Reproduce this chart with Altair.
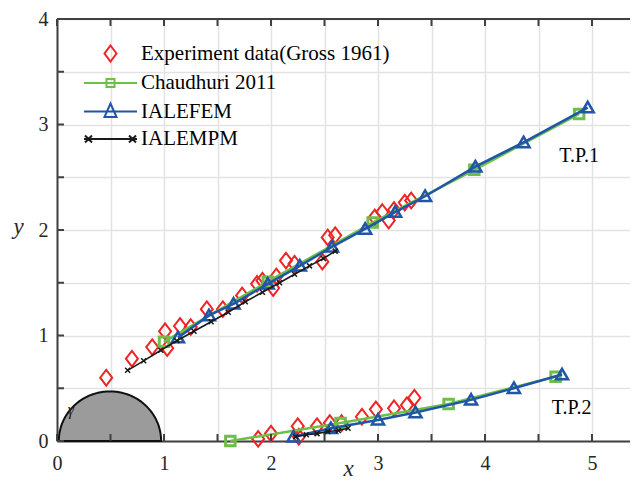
import altair as alt
import pandas as pd
import numpy as np

# ---------------- data ----------------
# T.P.1 experiment (Gross 1961)
exp1_x = [0.46, 0.70, 0.89, 1.01, 1.03, 1.15, 1.25, 1.40, 1.55, 1.73, 1.87, 1.92, 2.02, 2.05,
          2.14, 2.22, 2.48, 2.53, 2.60, 2.97, 3.04, 3.10, 3.15, 3.25, 3.31]
exp1_y = [0.60, 0.78, 0.89, 1.04, 0.88, 1.09, 1.08, 1.25, 1.25, 1.38, 1.49, 1.52, 1.45, 1.56,
          1.71, 1.68, 1.70, 1.93, 1.95, 2.12, 2.17, 2.09, 2.19, 2.26, 2.28]
# T.P.2 experiment
exp2_x = [1.88, 2.00, 2.25, 2.26, 2.43, 2.55, 2.66, 2.85, 2.98, 3.15, 3.27, 3.34]
exp2_y = [0.02, 0.07, 0.14, 0.04, 0.14, 0.17, 0.17, 0.23, 0.30, 0.31, 0.34, 0.41]

# Chaudhuri 2011
ch1_x = [1.00, 1.97, 2.95, 3.90, 4.88]
ch1_y = [0.94, 1.51, 2.07, 2.57, 3.10]
ch2_x = [1.62, 2.65, 3.66, 4.66]
ch2_y = [0.00, 0.17, 0.35, 0.61]

# IALEFEM
fem1_x = [1.13, 1.42, 1.65, 1.97, 2.27, 2.57, 2.88, 3.16, 3.44, 3.91, 4.36, 4.96]
fem1_y = [0.98, 1.19, 1.30, 1.49, 1.66, 1.84, 2.01, 2.17, 2.32, 2.60, 2.83, 3.16]
fem2_x = [2.21, 2.56, 3.00, 3.35, 3.87, 4.27, 4.72]
fem2_y = [0.04, 0.12, 0.20, 0.27, 0.39, 0.50, 0.63]

# IALEMPM
mpm1_x = [0.66, 0.81, 0.97, 1.12, 1.28, 1.44, 1.60, 1.76, 1.92, 2.08, 2.22, 2.36, 2.49, 2.60]
mpm1_y = [0.67, 0.76, 0.86, 0.95, 1.04, 1.13, 1.22, 1.32, 1.41, 1.50, 1.58, 1.66, 1.73, 1.80]
mpm2_x = [2.23, 2.33, 2.43, 2.53, 2.63, 2.72]
mpm2_y = [0.04, 0.06, 0.07, 0.09, 0.10, 0.12]

series = ["Experiment data(Gross 1961)", "Chaudhuri 2011", "IALEFEM", "IALEMPM"]
colors = ["#f02424", "#6cbf47", "#2156a6", "#1a1a1a"]

tick_x = [0, 0.5, 1, 1.5, 2, 2.5, 3, 3.5, 4, 4.5, 5]
tick_y = [0, 0.5, 1, 1.5, 2, 2.5, 3, 3.5, 4]

labels_txt = ["T.P.1", "T.P.2"]
labels_x = [4.88, 4.81]
labels_y = [2.70, 0.31]

# cylinder (half disc) geometry
cyl_cx, cyl_rx, cyl_ry = 0.495, 0.478, 0.47

# ---------------- chart ----------------
W, H = 573, 422
XMAX = W / 107.0
FONT = "Liberation Serif"
AX = "#262626"

xs = alt.Scale(domain=[0, XMAX], nice=False, zero=False)
ys = alt.Scale(domain=[0, 4], nice=False, zero=False)

xaxis = alt.Axis(values=tick_x, grid=True, ticks=False,
                 labelExpr="datum.value % 1 == 0 ? format(datum.value, 'd') : ''",
                 labelFont=FONT, labelFontSize=20, labelColor=AX, labelPadding=12,
                 labelFlush=False,
                 domainColor="#404040", domainWidth=2,
                 gridColor="#e2e2e2", gridWidth=1.5,
                 title="x", titleFont=FONT, titleFontStyle="italic", titleFontWeight="normal",
                 titleFontSize=23, titleColor=AX, titleX=291, titleY=34,
                 titleBaseline="alphabetic", titleAlign="center")
yaxis = alt.Axis(values=tick_y, grid=True, ticks=False,
                 labelExpr="datum.value % 1 == 0 ? format(datum.value, 'd') : ''",
                 labelFont=FONT, labelFontSize=20, labelColor=AX, labelPadding=9,
                 labelFlush=False,
                 domainColor="#404040", domainWidth=2,
                 gridColor="#e2e2e2", gridWidth=1.5,
                 title="y", titleFont=FONT, titleFontStyle="italic", titleFontWeight="normal",
                 titleFontSize=23, titleColor=AX, titleAngle=0, titleX=-39, titleY=207,
                 titleBaseline="middle", titleAlign="center")

X = alt.X("x:Q", scale=xs, axis=xaxis)
Y = alt.Y("y:Q", scale=ys, axis=yaxis)


def curve(xa, ya, xb, yb):
    return pd.DataFrame({"x": xa + xb, "y": ya + yb,
                         "tp": ["1"] * len(xa) + ["2"] * len(xb),
                         "i": list(range(len(xa) + len(xb)))})


theta = np.linspace(0, np.pi, 121)
cyl_df = pd.DataFrame({"x": cyl_cx - cyl_rx * np.cos(theta), "y": cyl_ry * np.sin(theta)})

exp_df = pd.DataFrame({"x": exp1_x + exp2_x, "y": exp1_y + exp2_y})
ch_df = curve(ch1_x, ch1_y, ch2_x, ch2_y)
fem_df = curve(fem1_x, fem1_y, fem2_x, fem2_y)
mpm_df = curve(mpm1_x, mpm1_y, mpm2_x, mpm2_y)

cyl = alt.Chart(cyl_df).mark_area(color="#9b9b9b", stroke="#111111", strokeWidth=2).encode(x=X, y=Y)

DIAMOND = "M0,-1.3L1,0L0,1.3L-1,0Z"
TRI = "M0,-1.1L1.15,0.9L-1.15,0.9Z"
XMARK = "M-1,-1L1,1M-1,1L1,-1"

exp_pts = alt.Chart(exp_df).mark_point(shape=DIAMOND, size=144, filled=False, strokeWidth=2,
                                       color=colors[0], opacity=1).encode(x=X, y=Y)

ch_line = alt.Chart(ch_df).mark_line(color=colors[1], strokeWidth=2.5).encode(
    x=X, y=Y, detail="tp:N", order="i:Q")
ch_pts = alt.Chart(ch_df).mark_point(shape="square", size=90, filled=False, strokeWidth=3,
                                     color=colors[1], opacity=1).encode(x=X, y=Y)

fem_line = alt.Chart(fem_df).mark_line(color=colors[2], strokeWidth=2.5).encode(
    x=X, y=Y, detail="tp:N", order="i:Q")
fem_pts = alt.Chart(fem_df).mark_point(shape=TRI, size=110, filled=False, strokeWidth=2.5,
                                       color=colors[2], opacity=1).encode(x=X, y=Y)

mpm_line = alt.Chart(mpm_df).mark_line(color=colors[3], strokeWidth=1.6).encode(
    x=X, y=Y, detail="tp:N", order="i:Q")
mpm_pts = alt.Chart(mpm_df).mark_point(shape=XMARK, size=25, filled=False, strokeWidth=1.5,
                                       color=colors[3], opacity=1).encode(x=X, y=Y)

# legend-only layer (no drawable points)
leg_shapes = [
    "M0,-1.6L1.2,0L0,1.6L-1.2,0Z",
    "M-5.3,0H5.3M-0.8,-0.8H0.8V0.8H-0.8Z",
    "M-5.3,0H5.3M0,-1.6L1.2,1.1L-1.2,1.1Z",
    "M-5.3,0H5.3M-5.1,-0.7L-3.7,0.7M-5.1,0.7L-3.7,-0.7M3.7,-0.7L5.1,0.7M3.7,0.7L5.1,-0.7",
]
leg_df = pd.DataFrame({"s": series, "x": [None] * 4, "y": [None] * 4})
legend = alt.Chart(leg_df).mark_point(filled=False, strokeWidth=2, opacity=1).encode(
    x=X, y=Y,
    color=alt.Color("s:N", scale=alt.Scale(domain=series, range=colors), legend=alt.Legend(
        title=None, orient="none", legendX=43, legendY=24, symbolSize=100,
        symbolStrokeWidth=2, labelFont=FONT, labelFontSize=21, labelColor="#000000",
        labelOffset=20, rowPadding=5.5, padding=0, symbolOffset=0, labelLimit=400)),
    shape=alt.Shape("s:N", scale=alt.Scale(domain=series, range=leg_shapes)),
)

# text annotations
lab_df = pd.DataFrame({"x": labels_x, "y": labels_y, "t": labels_txt})
labels = alt.Chart(lab_df).mark_text(font=FONT, fontSize=20, color="#000000").encode(
    x=X, y=Y, text="t:N")
gam_df = pd.DataFrame({"x": [0.13], "y": [0.29], "t": ["γ"]})
gam = alt.Chart(gam_df).mark_text(font=FONT, fontSize=16, fontStyle="italic", color="#222222").encode(
    x=X, y=Y, text="t:N")

# inward ticks (MATLAB style) and top box line
tx_df = pd.DataFrame({"x": tick_x})
ty_df = pd.DataFrame({"y": tick_y})
tick_b = alt.Chart(tx_df).mark_rule(color="#404040", strokeWidth=2).encode(
    x=X, y=alt.value(H), y2=alt.value(H - 7))
tick_t = alt.Chart(tx_df).mark_rule(color="#404040", strokeWidth=2).encode(
    x=X, y=alt.value(0), y2=alt.value(7))
tick_l = alt.Chart(ty_df).mark_rule(color="#404040", strokeWidth=2).encode(
    y=Y, x=alt.value(0), x2=alt.value(7))
top_line = alt.Chart(tx_df.head(1)).mark_rule(color="#404040", strokeWidth=2).encode(
    x=alt.value(0), x2=alt.value(W), y=alt.value(0))

chart = alt.layer(
    cyl, exp_pts, ch_line, ch_pts, fem_line, fem_pts, mpm_line, mpm_pts,
    legend, labels, gam, tick_b, tick_t, tick_l, top_line
).properties(
    width=W, height=H,
    padding={"left": 49, "top": 11, "right": 0, "bottom": 39},
    autosize=alt.AutoSizeParams(type="none"),
).configure_view(stroke=None).configure(background="white")

chart.save("out.html", embed_options={"renderer": "svg", "actions": False})
